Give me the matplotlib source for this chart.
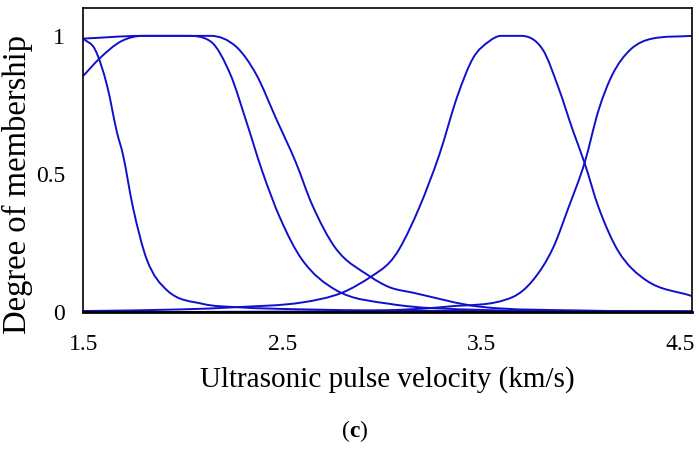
import matplotlib
matplotlib.use("Agg")
import matplotlib.pyplot as plt
from matplotlib.path import Path
from matplotlib.patches import PathPatch
import numpy as np

xa = [1.5, 1.56, 1.62, 1.67, 1.70, 1.75, 1.82, 1.92, 2.1, 2.27, 2.6, 3.0, 3.5, 4.0, 4.56]
ya = [0.99, 0.95, 0.82, 0.65, 0.57, 0.38, 0.19, 0.08, 0.03, 0.018, 0.01, 0.006, 0.004, 0.003, 0.002]

xb = [1.5, 1.585, 1.69, 1.8, 2.02, 2.14, 2.24, 2.32, 2.4, 2.49, 2.6, 2.77, 3.04, 3.5, 4.0, 4.56]
yb = [0.855, 0.92, 0.98, 1.0, 1.0, 0.98, 0.86, 0.69, 0.51, 0.34, 0.19, 0.08, 0.03, 0.008, 0.004, 0.002]

xc = [1.5, 1.8, 2.14, 2.27, 2.37, 2.47, 2.57, 2.65, 2.77, 2.94, 3.04, 3.16, 3.49, 4.0, 4.56]
yc = [0.99, 1.0, 1.0, 0.96, 0.86, 0.70, 0.54, 0.39, 0.23, 0.13, 0.09, 0.07, 0.02, 0.006, 0.003]

xd = [1.5, 2.0, 2.27, 2.6, 2.8, 2.95, 3.04, 3.09, 3.19, 3.29, 3.38, 3.46, 3.54, 3.6, 3.7,
      3.81, 3.89, 3.96, 4.02, 4.09, 4.19, 4.33, 4.56]
yd = [0.004, 0.01, 0.018, 0.035, 0.07, 0.13, 0.18, 0.23, 0.38, 0.57, 0.78, 0.92, 0.98, 1.0, 1.0,
      0.95, 0.81, 0.66, 0.54, 0.38, 0.22, 0.115, 0.058]

xe = [1.5, 2.5, 3.0, 3.33, 3.66, 3.76, 3.86, 3.94, 4.02, 4.09, 4.16, 4.25, 4.36, 4.56]
ye = [0.0, 0.002, 0.006, 0.02, 0.055, 0.115, 0.23, 0.38, 0.54, 0.73, 0.86, 0.95, 0.99, 1.0]

xticks = [1.5, 2.5, 3.5, 4.5]
xticklabels = ["1.5", "2.5", "3.5", "4.5"]
yticks = [0, 0.5, 1]
yticklabels = ["0", "0.5", "1"]


def smooth_path(x, y):
    # Bezier path through the read points (monotone-limited tangents)
    x = np.asarray(x, float); y = np.asarray(y, float)
    n = len(x)
    d = np.diff(y) / np.diff(x)
    m = np.zeros(n)
    m[0], m[-1] = d[0], d[-1]
    for i in range(1, n - 1):
        if d[i - 1] * d[i] > 0:
            v = (d[i - 1] + d[i]) / 2
            m[i] = np.sign(v) * min(abs(v), 3 * abs(d[i - 1]), 3 * abs(d[i]))
    verts = [(x[0], y[0])]
    codes = [Path.MOVETO]
    for i in range(n - 1):
        h = x[i + 1] - x[i]
        verts += [(x[i] + h / 3, y[i] + m[i] * h / 3),
                  (x[i + 1] - h / 3, y[i + 1] - m[i + 1] * h / 3),
                  (x[i + 1], y[i + 1])]
        codes += [Path.CURVE4] * 3
    return Path(verts, codes)


plt.rcParams["font.family"] = "Liberation Serif"
fig = plt.figure(figsize=(6.99, 4.57), dpi=100)
ax = fig.add_axes([0.119, 0.317, 0.871, 0.665])
for x, y in [(xa, ya), (xb, yb), (xc, yc), (xd, yd), (xe, ye)]:
    ax.add_patch(PathPatch(smooth_path(x, y), facecolor="none", edgecolor="#1010cc", lw=1.4))
ax.set_xlim(1.5, 4.56)
ax.set_ylim(0, 1.1)
ax.set_xticks(xticks)
ax.set_xticklabels(xticklabels, fontsize=17)
ax.set_yticks(yticks)
ax.set_yticklabels(yticklabels, fontsize=17)
ax.tick_params(axis="x", length=0, pad=16)
ax.tick_params(axis="y", length=0, pad=13)
ax.set_xlabel("Ultrasonic pulse velocity (km/s)", fontsize=21, labelpad=8)
ax.set_ylabel("Degree of membership", fontsize=23.5)
ax.yaxis.set_label_coords(-0.082, 0.42)
for s in ax.spines.values():
    s.set_linewidth(1.2)
ax.spines["bottom"].set_linewidth(2)
fig.text(0.5, 0.055, "(", fontsize=17, ha="right", va="center")
fig.text(0.5, 0.055, "c", fontsize=17, ha="left", va="center", fontweight="bold")
fig.text(0.5 + 0.014, 0.055, ")", fontsize=17, ha="left", va="center")
fig.savefig("out.png", dpi=100)
